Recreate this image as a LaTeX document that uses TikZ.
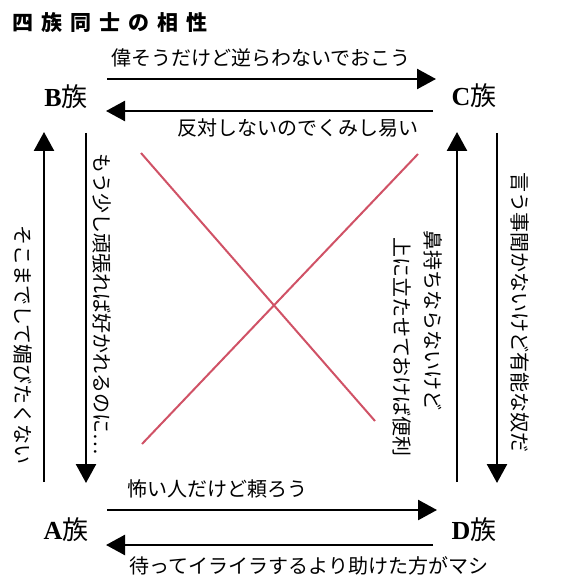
\documentclass[tikz,border=0pt]{standalone}
\usepackage{fontspec}
\setmainfont{Liberation Serif}
\newfontfamily\jp{Noto Sans CJK JP}
\usetikzlibrary{arrows.meta}
\definecolor{crossred}{RGB}{208,82,102}
\begin{document}
\begin{tikzpicture}[x=1pt,y=-1pt,
  lbl/.style={font=\jp\fontsize{20}{24}\selectfont, inner sep=0pt},
  vlbl/.style={lbl, rotate=-90},
  tribe/.style={font=\fontsize{26}{30}\selectfont, inner sep=0pt},
  arr/.style={line width=2.5pt, -{Triangle[width=20pt,length=19pt]}},
  crossline/.style={line width=2pt, draw=crossred}]
\useasboundingbox (0,0) rectangle (560,580);
% title
\node[font=\jp\bfseries\fontsize{21}{24}\selectfont, inner sep=0pt] (title) at (110,23)
  {四\hspace{8pt}族\hspace{8pt}同\hspace{8pt}士\hspace{8pt}の\hspace{8pt}相\hspace{8pt}性};
% tribes
\node[tribe] (B) at (66,97) {\textbf{B}{\jp 族}};
\node[tribe] (C) at (474,96) {\textbf{C}{\jp 族}};
\node[tribe] (A) at (66,530) {\textbf{A}{\jp 族}};
\node[tribe] (D) at (474,530) {\textbf{D}{\jp 族}};
% arrow ends
\coordinate (bc1) at (107,79);  \coordinate (bc2) at (436,79);
\coordinate (cb1) at (433,111); \coordinate (cb2) at (106,111);
\coordinate (ad1) at (107,510); \coordinate (ad2) at (437,510);
\coordinate (da1) at (433,545); \coordinate (da2) at (106,545);
\coordinate (ab1) at (44,482);  \coordinate (ab2) at (44,132);
\coordinate (ba1) at (86,133);  \coordinate (ba2) at (86,483);
\coordinate (dc1) at (457,482); \coordinate (dc2) at (457,132);
\coordinate (cd1) at (497,133); \coordinate (cd2) at (497,483);
\draw[arr] (bc1) -- (bc2);
\draw[arr] (cb1) -- (cb2);
\draw[arr] (ad1) -- (ad2);
\draw[arr] (da1) -- (da2);
\draw[arr] (ab1) -- (ab2);
\draw[arr] (ba1) -- (ba2);
\draw[arr] (dc1) -- (dc2);
\draw[arr] (cd1) -- (cd2);
% cross
\coordinate (x1a) at (141,153); \coordinate (x1b) at (375,421);
\coordinate (x2a) at (418,154); \coordinate (x2b) at (142,444);
\draw[crossline] (x1a) -- (x1b);
\draw[crossline] (x2a) -- (x2b);
% labels
\node[lbl] (lbc) at (261,58) {偉そうだけど逆らわないでおこう};
\node[lbl] (lcb) at (298,128) {反対しないのでくみし易い};
\node[lbl] (lad) at (217,489) {怖い人だけど頼ろう};
\node[lbl] (lda) at (309,566) {待ってイライラするより助けた方がマシ};
\node[vlbl] (lab) at (23,345) {そこまでして媚びたくない};
\node[vlbl] (lba) at (102,304) {もう少し頑張れば好かれるのに…};
\node[vlbl] (lcd) at (520,312) {言う事聞かないけど有能な奴だ};
\node[vlbl] (ldc1) at (433,320) {鼻持ちならないけど};
\node[vlbl] (ldc2) at (402,347) {上に立たせておけば便利};
\end{tikzpicture}
\end{document}
